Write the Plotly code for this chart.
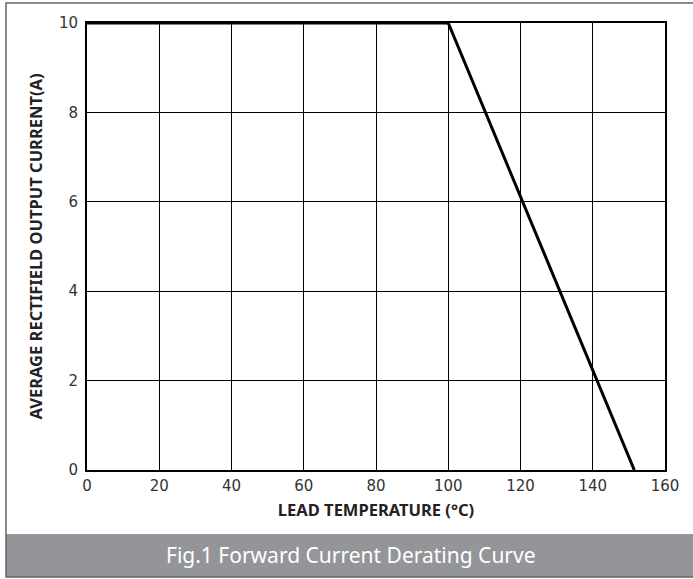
import plotly.graph_objects as go

temp_c = [0, 100, 151.5]
current_a = [10, 10, 0]
x_ticks = [0, 20, 40, 60, 80, 100, 120, 140, 160]
y_ticks = [0, 2, 4, 6, 8, 10]
caption = "Fig.1 Forward Current Derating Curve"

W, H = 693, 579
L, R, T, B = 87, 665, 23, 470
pw, ph = R - L, B - T

def px(x):
    return (x - L) / pw

def py(y):
    return (B - y) / ph

fig = go.Figure()
fig.add_trace(go.Scatter(x=temp_c, y=current_a, mode="lines",
                         line=dict(color="black", width=3), showlegend=False,
                         cliponaxis=False))

tickfont = dict(family="DejaVu Sans", size=15, color="#333333")
titlefont = dict(family="Noto Sans", size=16.5, color="#222222", weight="bold")

fig.update_layout(
    width=W, height=H,
    margin=dict(l=L, r=W - R, t=T, b=H - B),
    paper_bgcolor="white", plot_bgcolor="white",
    xaxis=dict(range=[0, 160], tickvals=x_ticks, showgrid=True, gridcolor="black",
               gridwidth=1, showline=True, linecolor="black", linewidth=2, mirror=True,
               ticks="outside", ticklen=1, tickcolor="rgba(0,0,0,0)",
               tickfont=tickfont, zeroline=False,
               title=dict(text="LEAD TEMPERATURE (°C)", font=titlefont, standoff=10)),
    yaxis=dict(range=[0, 10], tickvals=y_ticks, showgrid=True, gridcolor="black",
               gridwidth=1, showline=True, linecolor="black", linewidth=2, mirror=True,
               ticks="outside", ticklen=4, tickcolor="rgba(0,0,0,0)",
               tickfont=tickfont, zeroline=False,
               title=dict(text="AVERAGE RECTIFIELD OUTPUT CURRENT(A)", font=titlefont, standoff=12)),
    shapes=[
        dict(type="rect", xref="paper", yref="paper",
             x0=px(6), x1=px(700), y0=py(534), y1=py(577),
             fillcolor="#939598", line=dict(width=0), layer="below"),
        dict(type="rect", xref="paper", yref="paper",
             x0=px(6), x1=px(700), y0=py(577), y1=py(3),
             fillcolor="rgba(0,0,0,0)", line=dict(color="#666666", width=1.5)),
    ],
    annotations=[
        dict(text=caption, xref="paper", yref="paper", x=px(351), y=py(555),
             xanchor="center", yanchor="middle", showarrow=False,
             font=dict(family="Noto Sans", size=21, color="white")),
    ],
)

fig.write_html("out.html", config={"displayModeBar": False},
               post_script="document.body.style.margin='0';document.body.style.overflow='hidden';")
